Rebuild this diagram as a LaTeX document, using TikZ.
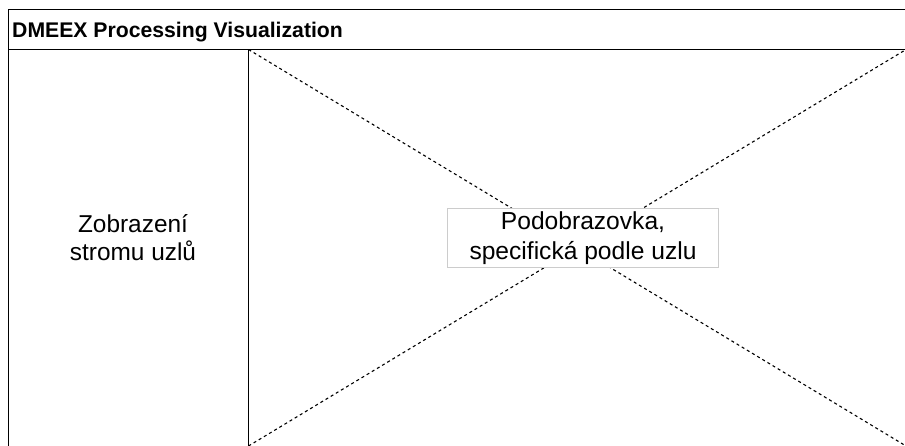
\documentclass[tikz,border=0pt]{standalone}
\usepackage{fontspec}
\setmainfont{Liberation Sans}
\begin{document}
\begin{tikzpicture}[x=1pt,y=-1pt,
  frameline/.style={draw=black,line width=1.5pt},
  crossline/.style={draw=black,line width=1.1pt,dash pattern=on 3pt off 3pt},
  labelbox/.style={draw=black!20,fill=white,line width=0.8pt,minimum width=271pt,minimum height=59pt,inner sep=0pt,align=center,font=\fontsize{24.6}{29.5}\selectfont},
  paneltext/.style={align=center,font=\fontsize{24.4}{28}\selectfont},
  titletext/.style={anchor=base west,inner sep=0pt,font=\fontsize{21.2}{24}\selectfont\bfseries}]
\useasboundingbox (0,0) rectangle (905,445);
\clip (0,0) rectangle (905,445);
\coordinate (frameTL) at (8.5,9.5);
\coordinate (frameBR) at (930,470);
\coordinate (titleL) at (8.5,49.5);
\coordinate (titleR) at (930,49.5);
\coordinate (divT) at (248.5,49.5);
\coordinate (divB) at (248.5,470);
\coordinate (areaTL) at (248.5,49.5);
\coordinate (areaBL) at (248.5,446);
\coordinate (areaTR) at (906,49.5);
\coordinate (areaBR) at (906,446);
\draw[frameline] (frameTL) rectangle (frameBR);
\draw[frameline] (titleL) -- (titleR);
\draw[frameline] (divT) -- (divB);
\draw[crossline] (areaTL) -- (areaBR);
\draw[crossline] (areaBL) -- (areaTR);
\node[titletext] (title) at (12,37.3) {DMEEX Processing Visualization};
\node[paneltext] (tree) at (133,238) {Zobrazení\\stromu uzlů};
\node[labelbox] (sub) at (583,238) {Podobrazovka,\\specifická podle uzlu};
\end{tikzpicture}
\end{document}
